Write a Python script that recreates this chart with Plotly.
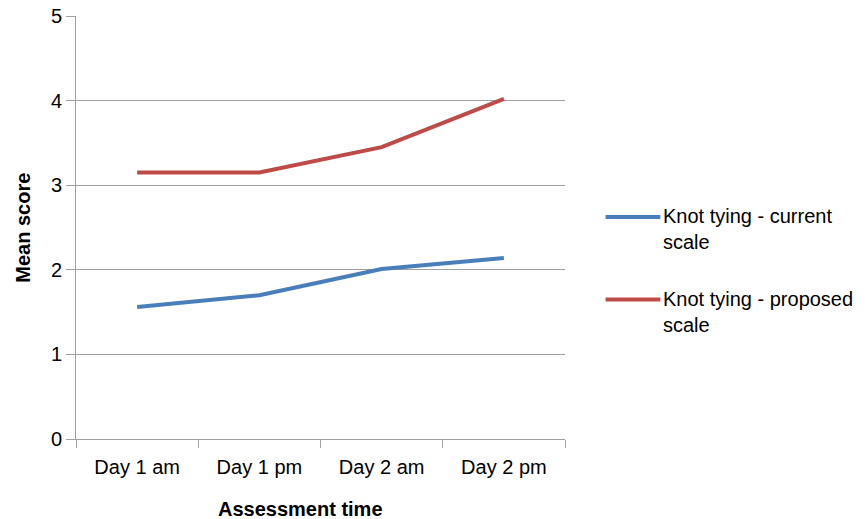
import plotly.graph_objects as go

# Assessment sessions and mean scores for the two knot-tying scales
sessions = ["Day 1 am", "Day 1 pm", "Day 2 am", "Day 2 pm"]
current_scale = [1.56, 1.70, 2.01, 2.14]
proposed_scale = [3.15, 3.15, 3.45, 4.02]
series_names = ["Knot tying - current<br>scale", "Knot tying - proposed<br>scale"]
series_colors = ["#4A7EBB", "#BE4B48"]

FONT = "Liberation Sans, Arial, Helvetica, sans-serif"
FS = 20
GRID = "#A0A0A0"

fig = go.Figure()
for vals, name, color in zip([current_scale, proposed_scale], series_names, series_colors):
    fig.add_trace(go.Scatter(
        x=sessions, y=vals, mode="lines", name=name,
        line=dict(color=color, width=4), showlegend=False,
    ))

# Hand-built legend to the right of the plot
legend_y = [0.525, 0.33]
for ly, name, color in zip(legend_y, series_names, series_colors):
    fig.add_shape(type="line", xref="paper", yref="paper",
                  x0=1.083, x1=1.195, y0=ly, y1=ly,
                  line=dict(color=color, width=4))
    fig.add_annotation(xref="paper", yref="paper", x=1.197, y=ly + 0.032,
                       text=name, showarrow=False, xanchor="left", yanchor="top",
                       align="left", font=dict(family=FONT, size=FS, color="#000"))

# Axis titles
fig.add_annotation(xref="paper", yref="paper", x=0.46, y=-0.135,
                   text="<b>Assessment time</b>", showarrow=False,
                   xanchor="center", yanchor="top",
                   font=dict(family=FONT, size=FS, color="#000"))
fig.add_annotation(xref="paper", yref="paper", x=-0.11, y=0.5, textangle=-90,
                   text="<b>Mean score</b>", showarrow=False,
                   xanchor="center", yanchor="middle",
                   font=dict(family=FONT, size=FS, color="#000"))

fig.update_layout(
    width=867, height=519,
    margin=dict(l=76, r=302, t=16, b=80, autoexpand=False),
    paper_bgcolor="white", plot_bgcolor="white",
    font=dict(family=FONT, size=FS, color="#000"),
    xaxis=dict(
        type="category", range=[-0.5, len(sessions) - 0.5], automargin=False,
        showgrid=False, showline=True, linecolor=GRID, linewidth=1,
        ticks="outside", tickson="boundaries", ticklen=8, tickcolor=GRID, tickwidth=1,
        ticklabelstandoff=10,
        tickfont=dict(family=FONT, size=FS, color="#000"),
    ),
    yaxis=dict(
        range=[0, 5], dtick=1, automargin=False,
        showgrid=True, gridcolor=GRID, gridwidth=1,
        zeroline=False, showline=True, linecolor=GRID, linewidth=1,
        ticks="outside", ticklen=9, tickcolor=GRID, tickwidth=1,
        tickfont=dict(family=FONT, size=FS, color="#000"),
    ),
)

fig.write_html("out.html")
